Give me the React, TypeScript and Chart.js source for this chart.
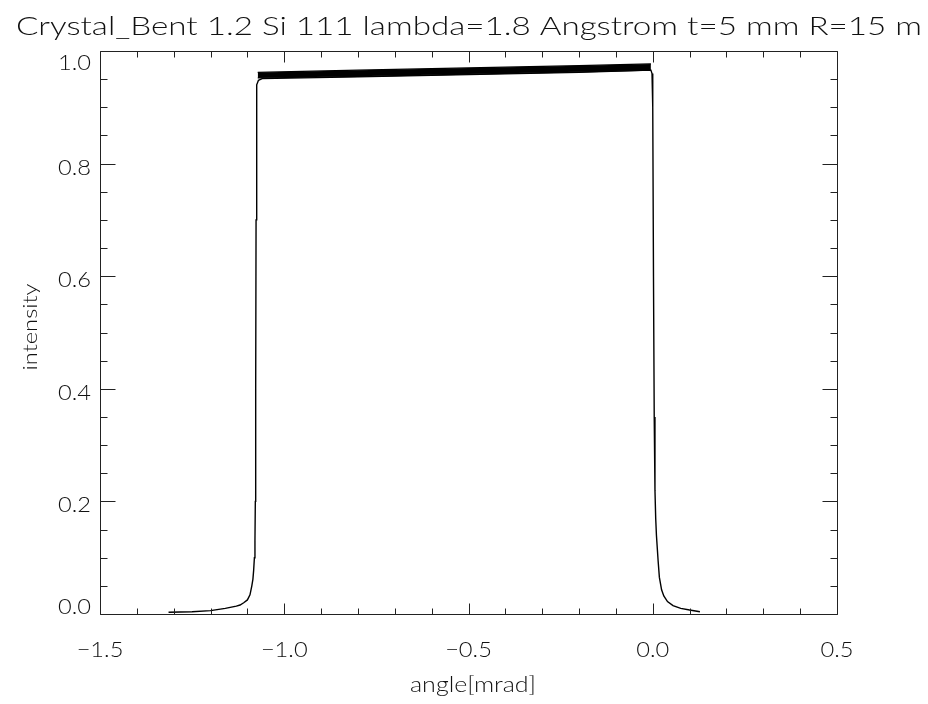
import React, { useEffect, useRef } from "react";
import { Chart, registerables } from "chart.js";

Chart.register(...registerables);

const TITLE = "Crystal_Bent 1.2 Si 111 lambda=1.8 Angstrom t=5 mm R=15 m";
const X_TITLE = "angle[mrad]";
const Y_TITLE = "intensity";

const xMajorTicks = [-1.5, -1.0, -0.5, 0.0, 0.5];
const xTickLabels = ["\u22121.5", "\u22121.0", "\u22120.5", "0.0", "0.5"];
const yMajorTicks = [0.0, 0.2, 0.4, 0.6, 0.8, 1.0];
const yTickLabels = ["0.0", "0.2", "0.4", "0.6", "0.8", "1.0"];

// main reflectivity curve (lower edge of the oscillating plateau)
const curveX = [
  -1.314, -1.25, -1.2, -1.16, -1.13, -1.12, -1.11, -1.1, -1.093, -1.088, -1.085, -1.083,
  -1.081, -1.0795, -1.0785, -1.0775, -1.0765, -1.0755, -1.074, -1.07, -1.06,
  -0.8, -0.5, -0.2, -0.005, -0.002, 0.0, 0.002, 0.004, 0.006, 0.008, 0.01, 0.012,
  0.0145, 0.018, 0.024, 0.03, 0.04, 0.055, 0.076, 0.1, 0.128,
];
const curveY = [
  0.003, 0.004, 0.006, 0.01, 0.014, 0.016, 0.02, 0.025, 0.034, 0.05, 0.062, 0.078,
  0.1, 0.13, 0.2, 0.4, 0.7, 0.9, 0.94, 0.948, 0.951,
  0.954, 0.958, 0.962, 0.966, 0.96, 0.9, 0.6, 0.35, 0.22, 0.17, 0.14, 0.12,
  0.095, 0.065, 0.043, 0.032, 0.022, 0.015, 0.01, 0.007, 0.004,
];

// oscillation band on the plateau
const bandX = [-1.072, -0.8, -0.5, -0.2, -0.005];
const bandLower = [0.952, 0.955, 0.959, 0.963, 0.966];
const bandUpper = [0.962, 0.966, 0.970, 0.974, 0.977];

const X_MIN = -1.5;
const X_MAX = 0.5;
const Y_MIN = 0;
const Y_MAX = 1.0;

const FAMILY = "'DejaVu Sans ExtraLight', 'Lato Light', 'Open Sans Light', 'Roboto Light', Lato, 'Open Sans', sans-serif";

function drawFit(
  ctx: CanvasRenderingContext2D,
  text: string,
  cx: number,
  baseline: number,
  font: string,
  width: number | null,
  factor: number,
  align: "center" | "right" = "center"
) {
  ctx.save();
  ctx.font = font;
  const w = ctx.measureText(text).width;
  const s = width ? width / w : factor;
  ctx.translate(cx, baseline);
  ctx.scale(s, 1);
  ctx.textAlign = align;
  ctx.textBaseline = "alphabetic";
  ctx.fillText(text, 0, 0);
  ctx.restore();
}

const frame = {
  id: "idlFrame",
  afterDraw(chart: any) {
    const { ctx, chartArea } = chart;
    const xs = chart.scales.x;
    const ys = chart.scales.y;
    const L = Math.round(chartArea.left) + 0.5;
    const R = Math.round(chartArea.right) + 0.5;
    const T = Math.round(chartArea.top) + 0.5;
    const B = Math.round(chartArea.bottom) + 0.5;
    ctx.save();
    ctx.strokeStyle = "#222";
    ctx.lineWidth = 1;
    ctx.beginPath();
    ctx.rect(L, T, R - L, B - T);
    ctx.stroke();

    ctx.beginPath();
    for (let i = 0; i < xMajorTicks.length; i++) {
      const v = xMajorTicks[i];
      const px = Math.round(xs.getPixelForValue(v)) + 0.5;
      ctx.moveTo(px, B); ctx.lineTo(px, B - 11);
      ctx.moveTo(px, T); ctx.lineTo(px, T + 11);
      if (i < xMajorTicks.length - 1) {
        const step = (xMajorTicks[i + 1] - v) / 5;
        for (let k = 1; k < 5; k++) {
          const mx = Math.round(xs.getPixelForValue(v + k * step)) + 0.5;
          ctx.moveTo(mx, B); ctx.lineTo(mx, B - 6);
          ctx.moveTo(mx, T); ctx.lineTo(mx, T + 6);
        }
      }
    }
    for (let i = 0; i < yMajorTicks.length; i++) {
      const v = yMajorTicks[i];
      const py = Math.round(ys.getPixelForValue(v)) + 0.5;
      ctx.moveTo(L, py); ctx.lineTo(L + 15, py);
      ctx.moveTo(R, py); ctx.lineTo(R - 15, py);
      if (i < yMajorTicks.length - 1) {
        const step = (yMajorTicks[i + 1] - v) / 4;
        for (let k = 1; k < 4; k++) {
          const my = Math.round(ys.getPixelForValue(v + k * step)) + 0.5;
          ctx.moveTo(L, my); ctx.lineTo(L + 7, my);
          ctx.moveTo(R, my); ctx.lineTo(R - 7, my);
        }
      }
    }
    ctx.stroke();

    ctx.fillStyle = "#111";
    const tickFont = `300 21px ${FAMILY}`;
    ctx.font = tickFont;
    const tf = 33 / ctx.measureText("0.0").width;
    for (let i = 0; i < xMajorTicks.length; i++) {
      const px = xs.getPixelForValue(xMajorTicks[i]);
      drawFit(ctx, xTickLabels[i], px, chartArea.bottom + 43, tickFont, null, tf);
    }
    for (let i = 0; i < yMajorTicks.length; i++) {
      const py = ys.getPixelForValue(yMajorTicks[i]);
      const base = Math.min(chartArea.bottom, Math.max(chartArea.top + 19, py + 11));
      drawFit(ctx, yTickLabels[i], chartArea.left - 9, base, tickFont, null, tf, "right");
    }

    drawFit(ctx, TITLE, 469, 35, `300 25px ${FAMILY}`, 906, 1);
    drawFit(ctx, X_TITLE, 473, 692, `300 21px ${FAMILY}`, 126, 1);

    ctx.save();
    ctx.translate(37, 327);
    ctx.rotate(-Math.PI / 2);
    drawFit(ctx, Y_TITLE, 0, 0, `300 20px ${FAMILY}`, 87, 1);
    ctx.restore();

    ctx.restore();
  },
};

export default function App() {
  const ref = useRef<HTMLCanvasElement | null>(null);
  useEffect(() => {
    if (!ref.current) return;
    const toPts = (xa: number[], ya: number[]) => xa.map((x, i) => ({ x, y: ya[i] }));
    const chart = new Chart(ref.current, {
      type: "line",
      data: {
        datasets: [
          {
            data: toPts(curveX, curveY),
            borderColor: "#000",
            borderWidth: 1.4,
            pointRadius: 0,
            fill: false,
            tension: 0,
          },
          {
            data: toPts(bandX, bandLower),
            borderColor: "#000",
            borderWidth: 1.2,
            pointRadius: 0,
            fill: false,
            tension: 0,
          },
          {
            data: toPts(bandX, bandUpper),
            borderColor: "#000",
            borderWidth: 1.2,
            pointRadius: 0,
            backgroundColor: "#000",
            fill: "-1",
            tension: 0,
          },
        ],
      },
      options: {
        animation: false,
        responsive: true,
        maintainAspectRatio: false,
        parsing: false,
        layout: { padding: { left: 100, right: 91, top: 51, bottom: 90 } },
        plugins: { legend: { display: false }, tooltip: { enabled: false }, title: { display: false } },
        scales: {
          x: { type: "linear", min: X_MIN, max: X_MAX, display: false },
          y: { type: "linear", min: Y_MIN, max: Y_MAX, display: false },
        },
      },
      plugins: [frame],
    });
    return () => chart.destroy();
  }, []);
  return (
    <div style={{ position: "fixed", left: 0, top: 0, width: 928, height: 704, background: "#fff" }}>
      <canvas ref={ref} />
    </div>
  );
}
